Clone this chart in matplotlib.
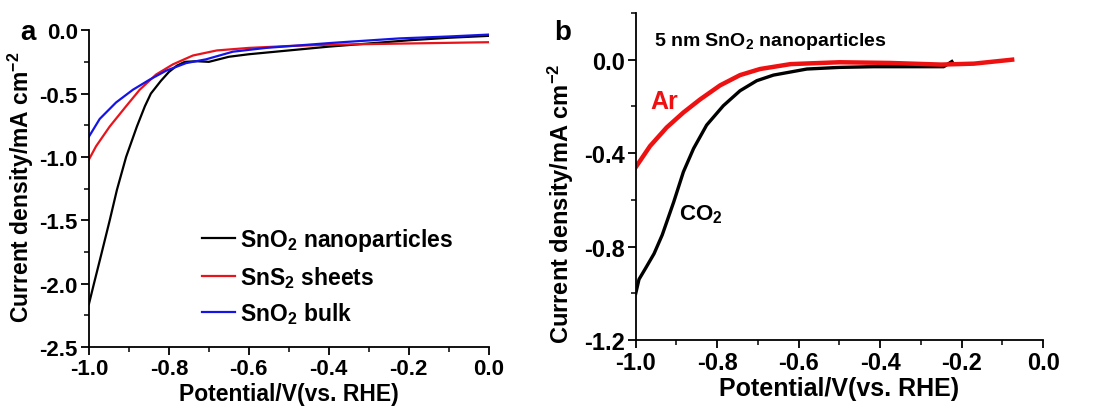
import matplotlib
matplotlib.use("Agg")
import matplotlib.pyplot as plt
from matplotlib.ticker import MultipleLocator

plt.rcParams['font.family'] = ['Liberation Sans', 'DejaVu Sans']
plt.rcParams['font.weight'] = 'bold'
plt.rcParams['axes.labelweight'] = 'bold'
plt.rcParams['mathtext.fontset'] = 'custom'
plt.rcParams['mathtext.rm'] = 'Liberation Sans:bold'
plt.rcParams['mathtext.default'] = 'rm'

# panel a: LSV curves of three samples
a_np_x = [-1.0, -0.9875, -0.97, -0.948, -0.93, -0.907, -0.88, -0.86, -0.845, -0.82, -0.80,
          -0.78, -0.76, -0.73, -0.70, -0.65, -0.6, -0.5, -0.4, -0.3, -0.2, -0.1, 0.0]
a_np_y = [-2.16, -2.0, -1.78, -1.5, -1.26, -1.0, -0.76, -0.6, -0.5, -0.4, -0.33,
          -0.28, -0.25, -0.245, -0.25, -0.21, -0.19, -0.16, -0.13, -0.105, -0.08, -0.06, -0.045]
a_sheets_x = [-1.0, -0.982, -0.948, -0.907, -0.873, -0.832, -0.79, -0.74, -0.68, -0.6,
              -0.5, -0.4, -0.3, -0.2, -0.1, 0.0]
a_sheets_y = [-1.02, -0.915, -0.76, -0.60, -0.47, -0.35, -0.27, -0.2, -0.16, -0.14,
              -0.125, -0.115, -0.11, -0.105, -0.1, -0.095]
a_bulk_x = [-1.0, -0.973, -0.932, -0.89, -0.848, -0.807, -0.757, -0.707, -0.64, -0.557,
            -0.39, -0.223, -0.1, 0.0]
a_bulk_y = [-0.84, -0.70, -0.57, -0.47, -0.39, -0.32, -0.26, -0.23, -0.17, -0.14,
            -0.1, -0.065, -0.05, -0.035]

# panel b: 5 nm SnO2 in Ar vs CO2
b_ar_x = [-1.0, -0.965, -0.924, -0.883, -0.842, -0.793, -0.744, -0.695, -0.62, -0.5,
          -0.375, -0.25, -0.17, -0.076]
b_ar_y = [-0.46, -0.37, -0.29, -0.226, -0.17, -0.11, -0.066, -0.04, -0.019, -0.011,
          -0.014, -0.021, -0.017, 0.0]
b_co2_x = [-1.0, -0.992, -0.975, -0.955, -0.935, -0.907, -0.883, -0.858, -0.826, -0.785, -0.744,
           -0.703, -0.662, -0.58, -0.5, -0.416, -0.334, -0.244, -0.224]
b_co2_y = [-1.0, -0.94, -0.89, -0.83, -0.75, -0.61, -0.48, -0.38, -0.28, -0.197, -0.133,
           -0.09, -0.066, -0.04, -0.033, -0.03, -0.03, -0.03, -0.008]

xlabel = 'Potential/V(vs. RHE)'
ylabel = 'Current density/mA cm$^{-2}$'

fig = plt.figure(figsize=(10.98, 4.10), dpi=100)
ax1 = fig.add_axes([0.081, 0.151, 0.364, 0.773])
ax2 = fig.add_axes([0.579, 0.168, 0.371, 0.798])

def style(ax, fs):
    for s in ['top', 'right']:
        ax.spines[s].set_visible(False)
    for s in ['left', 'bottom']:
        ax.spines[s].set_linewidth(1.3)
    ax.tick_params(which='major', direction='out', length=6, width=1.3, labelsize=fs, pad=2)
    ax.tick_params(which='minor', direction='out', length=3.5, width=1.1)
    ax.xaxis.set_major_locator(MultipleLocator(0.2))
    ax.xaxis.set_minor_locator(MultipleLocator(0.1))
    ax.xaxis.set_major_formatter(lambda v, p: f'{v:.1f}')
    ax.yaxis.set_major_formatter(lambda v, p: f'{v:.1f}')

style(ax1, 16)
ax1.plot(a_np_x, a_np_y, color='black', lw=1.6, label='SnO$_2$ nanoparticles')
ax1.plot(a_sheets_x, a_sheets_y, color='#e8141c', lw=1.6, label='SnS$_2$ sheets')
ax1.plot(a_bulk_x, a_bulk_y, color='#1414e6', lw=1.6, label='SnO$_2$ bulk')
ax1.set_xlim(-1.0, 0.0)
ax1.set_ylim(-2.5, 0.0)
ax1.yaxis.set_major_locator(MultipleLocator(0.5))
ax1.yaxis.set_minor_locator(MultipleLocator(0.25))
ax1.set_xlabel(xlabel, fontsize=16.5, labelpad=2)
ax1.set_ylabel(ylabel, fontsize=16.5)
ax1.yaxis.set_label_coords(-0.133, 0.508)
ax1.legend(loc='center left', bbox_to_anchor=(0.2825, 0.224), frameon=False, fontsize=16.5,
           handlelength=1.45, handletextpad=0.2, labelspacing=0.45,
           borderpad=0, borderaxespad=0)
fig.text(0.018, 0.92, 'a', fontsize=20, fontweight='bold', va='center')

style(ax2, 17)
ax2.plot(b_co2_x, b_co2_y, color='black', lw=2.4)
ax2.plot(b_ar_x, b_ar_y, color='#ee1111', lw=3.2)
ax2.set_xlim(-1.0, 0.0)
ax2.set_ylim(-1.2, 0.2)
ax2.yaxis.set_major_locator(MultipleLocator(0.4))
ax2.yaxis.set_minor_locator(MultipleLocator(0.2))
ax2.set_xlabel(xlabel, fontsize=18, labelpad=1)
ax2.set_ylabel(ylabel, fontsize=17)
ax2.yaxis.set_label_coords(-0.147, 0.42)
ax2.text(-0.965, -0.176, 'Ar', color='#ee1111', fontsize=18, fontweight='bold', va='center')
ax2.text(-0.895, -0.66, 'CO$_2$', color='black', fontsize=16, fontweight='bold', va='center')
ax2.text(-0.955, 0.08, '5 nm SnO$_2$ nanoparticles', color='black', fontsize=14,
         fontweight='bold', va='center')
fig.text(0.505, 0.92, 'b', fontsize=20, fontweight='bold', va='center')

fig.savefig('out.png', dpi=100)
